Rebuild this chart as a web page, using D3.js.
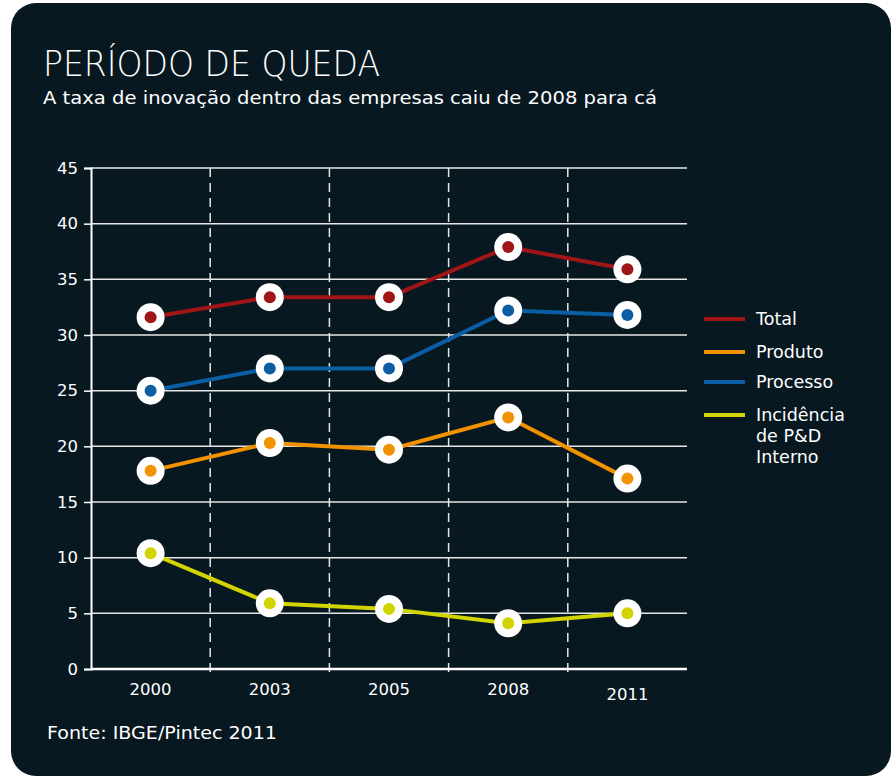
<!DOCTYPE html>
<html><head><meta charset="utf-8">
<script src="https://cdn.jsdelivr.net/npm/d3@7"></script>
<style>body{margin:0;background:#fff}</style>
</head><body>
<svg id="c" width="891" height="777"></svg>
<script>
const years = ["2000","2003","2005","2008","2011"];
const total = [31.6, 33.4, 33.4, 37.9, 35.9];
const produto = [17.8, 20.3, 19.7, 22.6, 17.1];
const processo = [25.0, 27.0, 27.0, 32.2, 31.8];
const incidencia = [10.4, 5.9, 5.4, 4.1, 5.0];
const yTicks = [0,5,10,15,20,25,30,35,40,45];
const seriesNames = ["Total","Produto","Processo","Incidência de P&D Interno"];
const colors = ["#a01515","#f39200","#0b5ea3","#d2d400"];

const series = [
  {name: seriesNames[0], values: total, color: colors[0]},
  {name: seriesNames[1], values: produto, color: colors[1]},
  {name: seriesNames[2], values: processo, color: colors[2]},
  {name: seriesNames[3], values: incidencia, color: colors[3]}
];

const svg = d3.select("#c");
const font = "'DejaVu Sans', sans-serif";
svg.append("rect").attr("x",11).attr("y",3).attr("width",880).attr("height",773)
  .attr("rx",25).attr("fill","#071820");

svg.append("text").attr("x",43).attr("y",76).attr("fill","#fff")
  .style("font-family",font).style("font-size","36px").style("font-weight",300)
  .attr("textLength",337).attr("lengthAdjust","spacingAndGlyphs")
  .text("PERÍODO DE QUEDA");
svg.append("text").attr("x",43).attr("y",104).attr("fill","#fff")
  .style("font-family",font).style("font-size","18px")
  .attr("textLength",614).attr("lengthAdjust","spacingAndGlyphs")
  .text("A taxa de inovação dentro das empresas caiu de 2008 para cá");

const L = 91, R = 687, T = 168, B = 669;
const x = d3.scaleBand().domain(years).range([L,R]);
const y = d3.scaleLinear().domain([0,45]).range([B,T]);

// grid
const g = svg.append("g");
g.selectAll(".grid").data(yTicks.filter(d=>d>0)).join("line")
  .attr("x1",L).attr("x2",R).attr("y1",d=>y(d)).attr("y2",d=>y(d))
  .attr("stroke","#e6e6e6").attr("stroke-width",1.5);
// dashed separators
g.selectAll(".sep").data(years.slice(1)).join("line")
  .attr("x1",d=>x(d)).attr("x2",d=>x(d)).attr("y1",T).attr("y2",B+8)
  .attr("stroke","#e6e6e6").attr("stroke-width",1.5).attr("stroke-dasharray","9,6");

// y axis
const ya = svg.append("g").attr("transform",`translate(${L},0)`)
  .call(d3.axisLeft(y).tickValues(yTicks).tickSize(7).tickPadding(6));
ya.select(".domain").attr("stroke","#fff").attr("stroke-width",2);
ya.selectAll(".tick line").attr("stroke","#fff").attr("stroke-width",1.5);
ya.selectAll(".tick text").attr("fill","#fff").style("font-family",font).style("font-size","16.5px");
// x axis line
svg.append("line").attr("x1",L).attr("x2",R).attr("y1",B).attr("y2",B)
  .attr("stroke","#fff").attr("stroke-width",2.5);
const xa = svg.append("g").attr("transform",`translate(0,${B})`)
  .call(d3.axisBottom(x).tickSize(0).tickPadding(14));
xa.select(".domain").remove();
xa.selectAll(".tick text").attr("fill","#fff").style("font-family",font).style("font-size","16.5px")
  .attr("dy",d=>d==="2011"?"1.0em":"0.71em");

const line = d3.line().x((d,i)=>x(years[i])+x.bandwidth()/2).y(d=>y(d));
series.forEach(s=>{
  svg.append("path").attr("d",line(s.values)).attr("fill","none")
    .attr("stroke",s.color).attr("stroke-width",4);
});
series.forEach(s=>{
  const gg = svg.append("g");
  gg.selectAll("circle.o").data(s.values).join("circle")
    .attr("cx",(d,i)=>x(years[i])+x.bandwidth()/2).attr("cy",d=>y(d)).attr("r",14).attr("fill","#fff");
  gg.selectAll("circle.i").data(s.values).join("circle")
    .attr("cx",(d,i)=>x(years[i])+x.bandwidth()/2).attr("cy",d=>y(d)).attr("r",6).attr("fill",s.color);
});

// legend
const legY = [319, 352, 382, 415];
const lg = svg.append("g");
series.forEach((s,i)=>{
  lg.append("line").attr("x1",704).attr("x2",745).attr("y1",legY[i]).attr("y2",legY[i])
    .attr("stroke",s.color).attr("stroke-width",4);
  const words = i===3 ? ["Incidência","de P&D","Interno"] : [s.name];
  const t = lg.append("text").attr("x",756).attr("y",legY[i]+6).attr("fill","#fff")
    .style("font-family",font).style("font-size","17.5px");
  words.forEach((w,j)=>t.append("tspan").attr("x",756).attr("dy",j===0?0:21).text(w));
});

svg.append("text").attr("x",47).attr("y",739).attr("fill","#fff")
  .style("font-family",font).style("font-size","17.5px")
  .attr("textLength",230).attr("lengthAdjust","spacingAndGlyphs")
  .text("Fonte: IBGE/Pintec 2011");
</script>
</body></html>
